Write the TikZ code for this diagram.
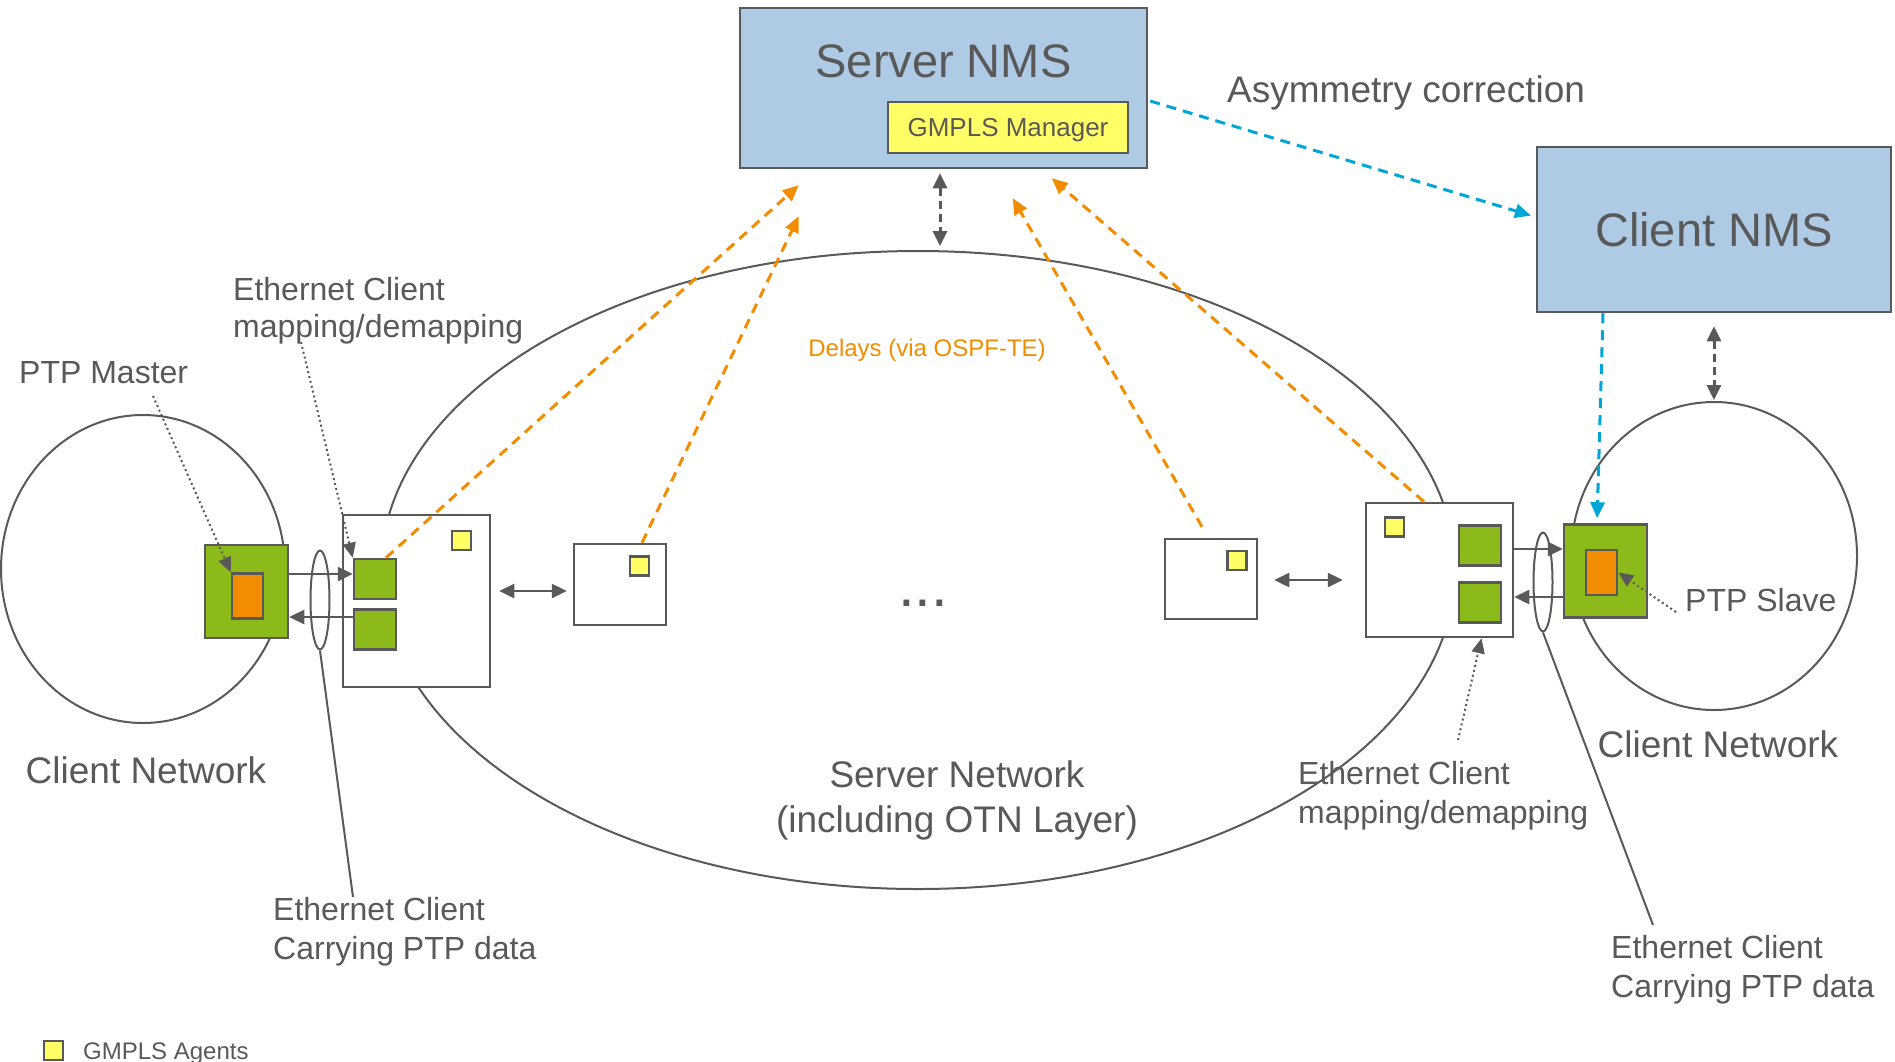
\documentclass[tikz,border=0pt]{standalone}
\usepackage{fontspec}
\setmainfont{Liberation Sans}
\usetikzlibrary{shapes.geometric, arrows.meta, positioning, calc}
\definecolor{linegray}{HTML}{595959}
\definecolor{nmsblue}{HTML}{AFCAE4}
\definecolor{agentyellow}{HTML}{FFFF66}
\definecolor{portgreen}{HTML}{8BBA1A}
\definecolor{clockorange}{HTML}{F28C00}
\definecolor{asymblue}{HTML}{00A6D6}
\newcommand{\pxfont}[2]{\fontsize{#1}{#2}\selectfont}

\begin{document}
\begin{tikzpicture}[
    x=1pt, y=-1pt,
    every node/.style={text=linegray, inner sep=0pt},
    box/.style={draw=linegray, line width=2.5pt, fill=white},
    nms/.style={box, fill=nmsblue},
    port/.style={box, fill=portgreen, minimum width=42pt, minimum height=40pt},
    agent/.style={box, fill=agentyellow, minimum width=19pt, minimum height=19pt},
    ptpbox/.style={box, fill=portgreen, minimum width=83pt, minimum height=93pt},
    clock/.style={box, fill=clockorange, minimum width=31pt, minimum height=45pt},
    net/.style={ellipse, draw=linegray, line width=2pt},
    loop/.style={ellipse, draw=linegray, line width=2pt, minimum width=19pt, minimum height=99pt},
    lbl/.style={anchor=base west, align=left, font=\pxfont{32}{38.5}},
    big/.style={anchor=base, align=center, font=\pxfont{37}{45}},
    arr/.style={-{Triangle[length=15pt, width=14pt]}, draw=linegray, line width=2.5pt},
    dbl/.style={{Triangle[length=15pt, width=14pt]}-{Triangle[length=15pt, width=14pt]}, draw=linegray, line width=2.5pt},
    mgmt/.style={dbl, line width=3pt, dash pattern=on 8pt off 5pt},
    delay/.style={-{Triangle[length=16pt, width=14pt]}, draw=clockorange, line width=3pt, dash pattern=on 10pt off 7pt},
    asym/.style={delay, draw=asymblue},
    pointer/.style={-{Triangle[length=15pt, width=13pt]}, draw=linegray, line width=2pt, dash pattern=on 2pt off 3pt},
    lead/.style={draw=linegray, line width=2pt}
]
\useasboundingbox (0,0) rectangle (1895,1061);

% Networks
\node[net, minimum width=1074pt, minimum height=638pt] (srvnet) at (918,570) {};
\node[net, minimum width=284pt, minimum height=308pt] (lcn) at (143,569) {};
\node[net, minimum width=286pt, minimum height=308pt] (rcn) at (1714,556) {};

% Management systems
\node[nms, minimum width=407pt, minimum height=160pt] (snms) at (943.5,88) {};
\node[anchor=base, font=\pxfont{47}{56}] (snmstxt) at (943.5,77) {Server NMS};
\node[box, fill=agentyellow, minimum width=240pt, minimum height=51pt,
      font=\pxfont{26}{31}, text height=18.6pt, text depth=0pt] (gmgr) at (1008,127.5) {GMPLS Manager};
\node[nms, minimum width=354pt, minimum height=165pt,
      font=\pxfont{47}{56}, text height=33.7pt, text depth=0pt] (cnms) at (1714,229.5) {Client NMS};

% Left edge: PTP master and mapping node
\node[box, minimum width=147pt, minimum height=172pt] (lne) at (416.5,601) {};
\node[port] (lgu) at (375,579) {};
\node[port] (lgd) at (375,629.5) {};
\node[agent] (lag) at (461.5,540.5) {};
\node[ptpbox] (lptp) at (246.5,591.5) {};
\node[clock] (lmaster) at (247.5,596) {};
\node[loop] (lloop) at (320,600) {};

% Server nodes
\node[box, minimum width=92pt, minimum height=81pt] (n1) at (620,584.5) {};
\node[agent] (n1ag) at (639.5,566) {};
\node[box, minimum width=92pt, minimum height=80pt] (n2) at (1211,579) {};
\node[agent] (n2ag) at (1237,560.5) {};
\node[anchor=base, font=\pxfont{60}{60}] (dots) at (923,606.5) {...};

% Right edge: mapping node and PTP slave
\node[box, minimum width=147pt, minimum height=134pt] (rne) at (1439.5,570) {};
\node[agent] (rag) at (1394.5,527) {};
\node[port] (rgu) at (1480,545.5) {};
\node[port] (rgd) at (1480,602.5) {};
\node[ptpbox] (rptp) at (1605.5,571) {};
\node[clock] (rslave) at (1601.5,572.5) {};
\node[loop] (rloop) at (1543,582) {};

% Data links
\draw[arr] ($(lptp.east)+(0,-17.5)$) coordinate (lout) -- (lout -| lgu.west);
\draw[arr] ($(lptp.east)+(0,25.5)$) coordinate (lin) (lin -| lgd.west) -- (lin);
\draw[dbl, shorten <=8pt, shorten >=6pt] ($(lne.east)+(0,-10)$) coordinate (l1) -- (l1 -| n1.west);
\draw[dbl, shorten <=16pt, shorten >=22pt] ($(n2.east)+(0,1)$) coordinate (r1) -- (r1 -| rne.west);
\draw[arr] ($(rne.east)+(0,-21)$) coordinate (rout) -- (rout -| rptp.west);
\draw[arr] ($(rne.east)+(0,27)$) coordinate (rin) (rin -| rptp.west) -- (rin);

% Management links
\draw[mgmt, shorten <=4pt, shorten >=4pt] ($(snms.south)+(-3.5,0)$) coordinate (m1) -- (m1 |- srvnet.north);
\draw[mgmt, shorten <=13pt, shorten >=1pt] (cnms.south) -- (rcn.north);

% Asymmetry correction
\draw[asym, shorten >=5pt] ($(snms.east)+(2,13)$) -- ($(cnms.west)+(0,-12.5)$);
\draw[asym, shorten >=5pt] ($(cnms.south)+(-111,0)$) -- ($(rptp.north)+(-8.5,0)$);

% Delays towards the server NMS
\coordinate (d1) at ($(snms.south west)+(60,16)$);
\coordinate (d2) at ($(snms.south west)+(60,47)$);
\coordinate (d3) at ($(snms.south west)+(274,29)$);
\coordinate (d4) at ($(snms.south west)+(313,9)$);
\draw[delay] ($(lgu.north)+(11,0)$) -- (d1);
\draw[delay] ($(n1.north)+(22,0)$) -- (d2);
\draw[delay] ($(n2.north)+(-9,-11)$) -- (d3);
\draw[delay] ($(rne.north)+(-15.5,0)$) -- (d4);

% Labels (base of a two-line label is its last line)
\node[big, anchor=base west] (asymlab) at (1227,102) {Asymmetry correction};
\node[anchor=base, font=\pxfont{24}{29}, text=clockorange] (delaylab) at (927,356) {Delays (via OSPF-TE)};
\node[lbl] (pmlab) at (19,383.5) {PTP Master};
\node[lbl, font=\pxfont{32}{37}] (emlab) at (233,337) {Ethernet Client\\mapping/demapping};
\node[big] (lcnlab) at (146,783) {Client Network};
\node[big] (srvlab) at (957,832) {Server Network\\(including OTN Layer)};
\node[lbl] (rmlab) at (1298,823) {Ethernet Client\\mapping/demapping};
\node[big] (rcnlab) at (1718,757) {Client Network};
\node[lbl] (pslab) at (1685,611.5) {PTP Slave};
\node[lbl] (lclab) at (273,959) {Ethernet Client\\Carrying PTP data};
\node[lbl] (rclab) at (1611,997) {Ethernet Client\\Carrying PTP data};

% Pointers and leads
\coordinate (pmtail) at (153,396);
\coordinate (emtail) at (301,342);
\coordinate (rmtail) at (1458,740);
\coordinate (pstail) at (1676,612);
\coordinate (lctail) at (353,897);
\coordinate (rctail) at (1653,925);
\draw[pointer] (pmtail) -- (lmaster.north west);
\draw[pointer] (emtail) -- (lgu.north west);
\draw[pointer] (rmtail) -- ($(rne.south)+(42,0)$);
\draw[pointer] (pstail) -- (rslave.east);
\draw[lead] (lloop.south) -- (lctail);
\draw[lead] (rloop.south) -- (rctail);

% Legend
\node[agent, line width=2pt] (legag) at (53,1050.5) {};
\node[anchor=base west, font=\pxfont{24}{29}] (legtxt) at (83,1059) {GMPLS Agents};
\end{tikzpicture}
\end{document}
